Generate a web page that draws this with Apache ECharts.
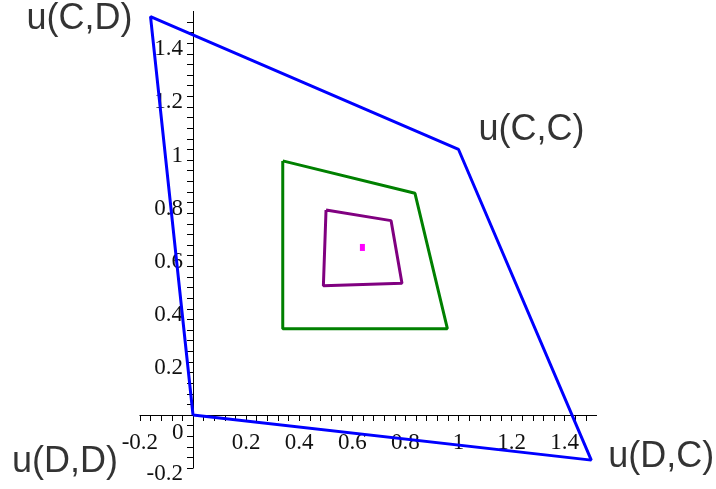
<!DOCTYPE html>
<html>
<head>
<meta charset="utf-8">
<script src="https://cdn.jsdelivr.net/npm/echarts@6/dist/echarts.min.js"></script>
<style>
html,body{margin:0;padding:0;background:#fff;}
#chart{width:716px;height:489px;}
</style>
</head>
<body>
<div id="chart"></div>
<script>
// ---- data ----
var outerNames = ['u(D,D)', 'u(C,D)', 'u(C,C)', 'u(D,C)', ''];
var outerX = [0, -0.16, 1, 1.5, 0];
var outerY = [0, 1.5, 1, -0.17, 0];

var greenX = [0.338, 0.836, 0.958, 0.338, 0.338];
var greenY = [0.957, 0.835, 0.325, 0.325, 0.957];

var purpleX = [0.501, 0.746, 0.787, 0.491, 0.501];
var purpleY = [0.772, 0.732, 0.496, 0.487, 0.772];

var centerX = [0.638];
var centerY = [0.631];

var xTickLabels = ['-0.2', '0.2', '0.4', '0.6', '0.8', '1', '1.2', '1.4'];
var yTickLabels = ['-0.2', '0.2', '0.4', '0.6', '0.8', '1', '1.2', '1.4'];
var originLabel = '0';

// ---- build ----
function pairs(xs, ys) { return xs.map(function (x, i) { return [x, ys[i]]; }); }

var cornerOffsets = {
  'u(D,D)': [-128, 47],
  'u(C,D)': [-71, 2],
  'u(C,C)': [73, -19],
  'u(D,C)': [70, -3]
};

var cornerData = [];
outerX.forEach(function (x, i) {
  var name = outerNames[i];
  if (!name) return;
  cornerData.push({
    value: [x, outerY[i]],
    name: name,
    label: {
      show: true,
      position: 'inside',
      offset: cornerOffsets[name],
      formatter: name,
      fontFamily: 'Liberation Sans, Arial, sans-serif',
      fontSize: 36,
      color: '#000'
    }
  });
});

function fmt(list) {
  return function (v) {
    var s = String(Math.round(v * 100) / 100);
    return list.indexOf(s) >= 0 ? s : '';
  };
}

var labelFont = {
  fontFamily: 'Liberation Serif, Times New Roman, serif',
  fontSize: 23,
  color: '#111'
};

var gridLeft = 139.9, gridRight = 119.4, gridTop = 11.4, gridBottom = 20.9;
var unitPx = 265.5;

var chart = echarts.init(document.getElementById('chart'));
chart.setOption({
  animation: false,
  backgroundColor: '#fff',
  grid: { left: gridLeft, right: gridRight, top: gridTop, bottom: gridBottom, containLabel: false, outerBoundsMode: 'none' },
  xAxis: {
    type: 'value',
    position: 'bottom',
    offset: -0.2 * unitPx,
    min: -0.2, max: 1.52, interval: 0.04,
    axisLine: { show: true, onZero: false, lineStyle: { color: '#000', width: 1 } },
    axisTick: { show: true, length: 6, lineStyle: { color: '#000', width: 1 } },
    splitLine: { show: false },
    axisLabel: Object.assign({ margin: 16, formatter: fmt(xTickLabels), showMaxLabel: false, hideOverlap: false }, labelFont)
  },
  yAxis: {
    type: 'value',
    position: 'left',
    offset: -0.2 * unitPx,
    min: -0.2, max: 1.52, interval: 0.04,
    axisLine: { show: true, onZero: false, lineStyle: { color: '#000', width: 1 } },
    axisTick: { show: true, length: 6, lineStyle: { color: '#000', width: 1 } },
    splitLine: { show: false },
    axisLabel: Object.assign({ margin: 10, verticalAlign: 'top', lineHeight: 12, formatter: fmt(yTickLabels), showMaxLabel: false, hideOverlap: false }, labelFont)
  },
  graphic: [{
    type: 'text',
    left: 172, top: 421,
    style: { text: originLabel, font: '23px "Liberation Serif", serif', fill: '#111' }
  }],
  series: [
    {
      type: 'line', data: pairs(outerX, outerY), symbol: 'none',
      lineStyle: { color: '#0000ff', width: 3 }, z: 3
    },
    {
      type: 'line', data: pairs(greenX, greenY), symbol: 'none',
      lineStyle: { color: '#008000', width: 3 }
    },
    {
      type: 'line', data: pairs(purpleX, purpleY), symbol: 'none',
      lineStyle: { color: '#800080', width: 3 }
    },
    {
      type: 'scatter', data: pairs(centerX, centerY), symbol: 'rect', symbolSize: [5, 7],
      itemStyle: { color: '#ff00ff', opacity: 1 }
    },
    {
      type: 'scatter', data: cornerData, symbolSize: 1,
      itemStyle: { color: 'rgba(0,0,0,0)' }, silent: true, z: 5
    }
  ]
});
</script>
</body>
</html>
